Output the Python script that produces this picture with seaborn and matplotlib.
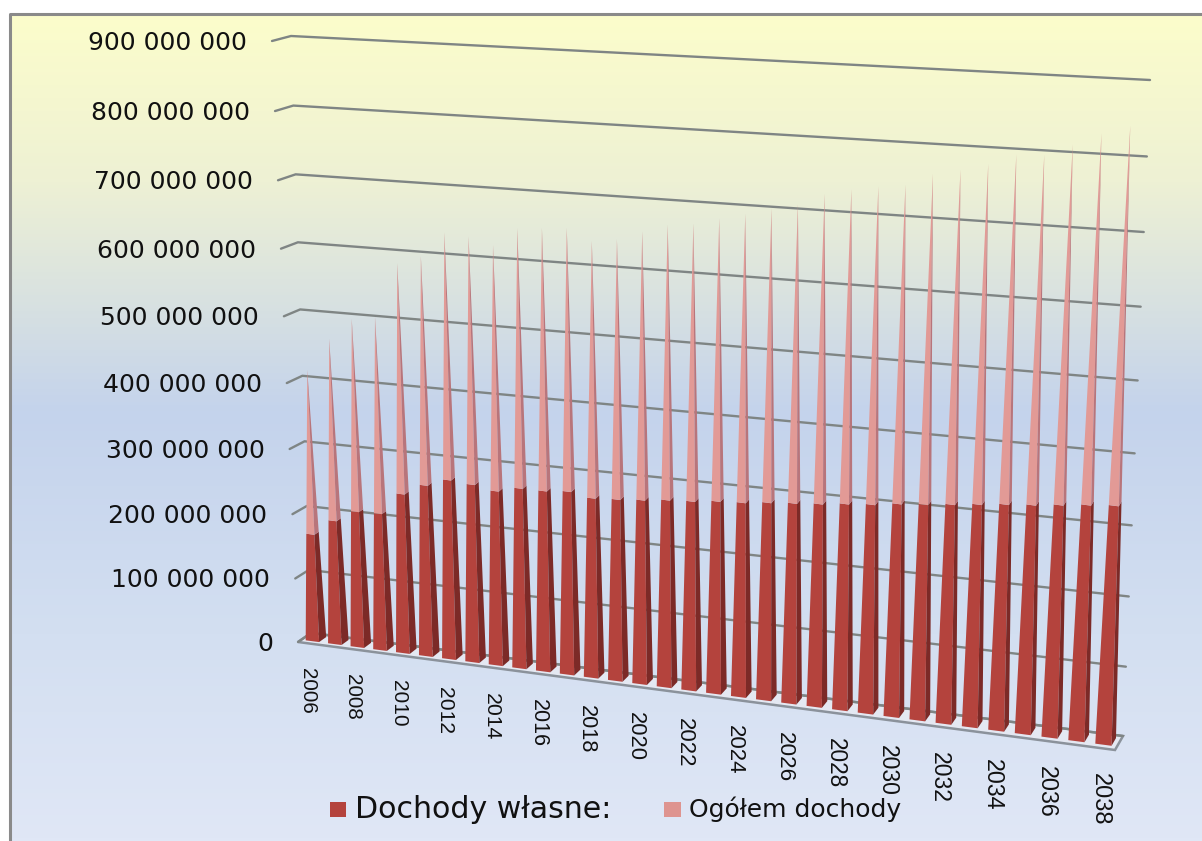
# 3D pyramid chart of income per year, drawn on a flat pixel axes
import numpy as np
import pandas as pd
import matplotlib.pyplot as plt
from matplotlib.colors import LinearSegmentedColormap
from matplotlib.patches import Rectangle
import seaborn as sns

# Data (millions)
years = list(range(2006, 2039))
own_income = [167, 192, 210, 211, 245, 262, 274, 271, 265, 273, 273, 276, 270, 272, 275, 279, 281,
              285, 287, 291, 294, 297, 301, 304, 309, 312, 316, 320, 324, 327, 331, 335, 338]
total_income = [417, 467, 500, 506, 588, 601, 638, 635, 625, 652, 655, 658, 642, 647, 661, 673, 677,
                687, 696, 706, 714, 731, 740, 746, 751, 768, 776, 786, 801, 803, 819, 836, 848]
levels = [0, 100, 200, 300, 400, 500, 600, 700, 800, 900]
level_labels = ["0", "100 000 000", "200 000 000", "300 000 000", "400 000 000",
                "500 000 000", "600 000 000", "700 000 000", "800 000 000", "900 000 000"]
series_names = ["Dochody własne:", "Ogółem dochody"]

sns.set_theme(style="white")
plt.rcParams["font.family"] = ["DejaVu Sans"]

# View geometry in pixels
FRONT_L = np.array([298.0, 642.0])
FRONT_R = np.array([1115.0, 750.0])
BACK_L = np.array([311.0, 633.0])
BACK_R = np.array([1123.0, 736.0])
UP_FRONT_L = np.array([-26.0, -601.0])
UP_BACK_L = np.array([-20.0, -597.0])
UP_BACK_R = np.array([27.0, -656.0])
VMAX = 900.0


def warp_x(u):
    return u - 0.1 * u * (1 - u)


def warp_v(v):
    w = v / VMAX
    return w - 0.055 * w * (1 - w)


def floor(u, d):
    t = warp_x(u)
    front = FRONT_L + (FRONT_R - FRONT_L) * t
    back = BACK_L + (BACK_R - BACK_L) * t
    return front + (back - front) * d


def rise(u, v):
    t = warp_x(u)
    return (UP_BACK_L + (UP_BACK_R - UP_BACK_L) * t) * warp_v(v)


fig = plt.figure(figsize=(12.02, 8.41), dpi=100)
ax = fig.add_axes([0, 0, 1, 1])

# Background gradient and frame
bg = LinearSegmentedColormap.from_list(
    "bg", [(0, "#FCFDCB"), (0.2, "#EEF1D4"), (0.48, "#C4D3EC"), (0.75, "#D3DFF1"), (1, "#E0E7F6")])
ax.imshow(np.linspace(0, 1, 256).reshape(-1, 1), cmap=bg, aspect="auto",
          extent=(10, 1202, 841, 14), zorder=0)
ax.plot([10, 10, 1202], [841, 14, 14], color="#8A8A8A", lw=2.2, zorder=1)

# Floor
floor_xy = np.array([FRONT_L, FRONT_R, BACK_R, BACK_L])
ax.fill(floor_xy[:, 0], floor_xy[:, 1], facecolor="#E4E8F2", edgecolor="#8B929B", lw=1.8, zorder=2)

# Grid lines: side wall tick and back wall line for each level
rows = []
for lv in levels:
    rows.append({"level": lv, "x": (FRONT_L + UP_FRONT_L * warp_v(lv))[0], "y": (FRONT_L + UP_FRONT_L * warp_v(lv))[1]})
    rows.append({"level": lv, "x": (BACK_L + rise(0, lv))[0], "y": (BACK_L + rise(0, lv))[1]})
    rows.append({"level": lv, "x": (BACK_R + rise(1, lv))[0], "y": (BACK_R + rise(1, lv))[1]})
grid = pd.DataFrame(rows)
sns.lineplot(data=grid, x="x", y="y", units="level", estimator=None, sort=False,
             color="#7F8584", lw=1.7, legend=False, ax=ax, zorder=3)

# Pyramids
slot = 1 / len(years)
half = 0.3 * slot
d0, d1 = 0.25, 0.8
for i in range(len(years)):
    u = (i + 0.5) * slot
    p_fl = floor(u - half, d0)
    p_fr = floor(u + half, d0)
    p_br = floor(u + half, d1)
    apex = floor(u, (d0 + d1) / 2) + rise(u, total_income[i])
    base_h = floor(u, (d0 + d1) / 2) + rise(u, own_income[i])
    f = (base_h[1] - floor(u, (d0 + d1) / 2)[1]) / (apex[1] - floor(u, (d0 + d1) / 2)[1])
    c_fl = p_fl + (apex - p_fl) * f
    c_fr = p_fr + (apex - p_fr) * f
    c_br = p_br + (apex - p_br) * f
    ax.fill(*zip(p_fl, p_fr, c_fr, c_fl), color="#B4433D", lw=0, zorder=5)
    ax.fill(*zip(p_fr, p_br, c_br, c_fr), color="#7C2A27", lw=0, zorder=5)
    ax.fill(*zip(c_fl, c_fr, apex), color="#E29A96", lw=0, zorder=5)
    ax.fill(*zip(c_fr, c_br, apex), color="#B8757B", lw=0, zorder=5)

# Value labels
for lv, lab in zip(levels, level_labels):
    p = FRONT_L + UP_FRONT_L * warp_v(lv)
    ax.text(p[0] - 25, p[1] + 2, lab, fontsize=18, ha="right", va="center", color="#111111", zorder=6)

# Year labels, every second year, slightly larger towards the viewer
for i in range(0, len(years), 2):
    u = (i + 0.5) * slot
    p = floor(u, 0)
    ax.text(p[0] - 1.5, p[1] + 25, str(years[i]), rotation=-90, ha="center", va="top",
            fontsize=14.8 + 2.2 * i / 32, family=["Liberation Sans Narrow", "Liberation Sans"],
            color="#111111", zorder=6)

# Legend
ax.add_patch(Rectangle((330, 802), 16, 15, color="#B4433D", lw=0, zorder=6))
ax.text(355, 810, series_names[0], fontsize=21.6, ha="left", va="center", color="#111111", zorder=6)
ax.add_patch(Rectangle((664, 802), 17, 15, color="#DE9490", lw=0, zorder=6))
ax.text(689, 809, series_names[1], fontsize=18, ha="left", va="center", color="#111111", zorder=6)

ax.set_xlim(0, 1202)
ax.set_ylim(841, 0)
ax.axis("off")

fig.savefig("out.png", dpi=100, facecolor="white")
